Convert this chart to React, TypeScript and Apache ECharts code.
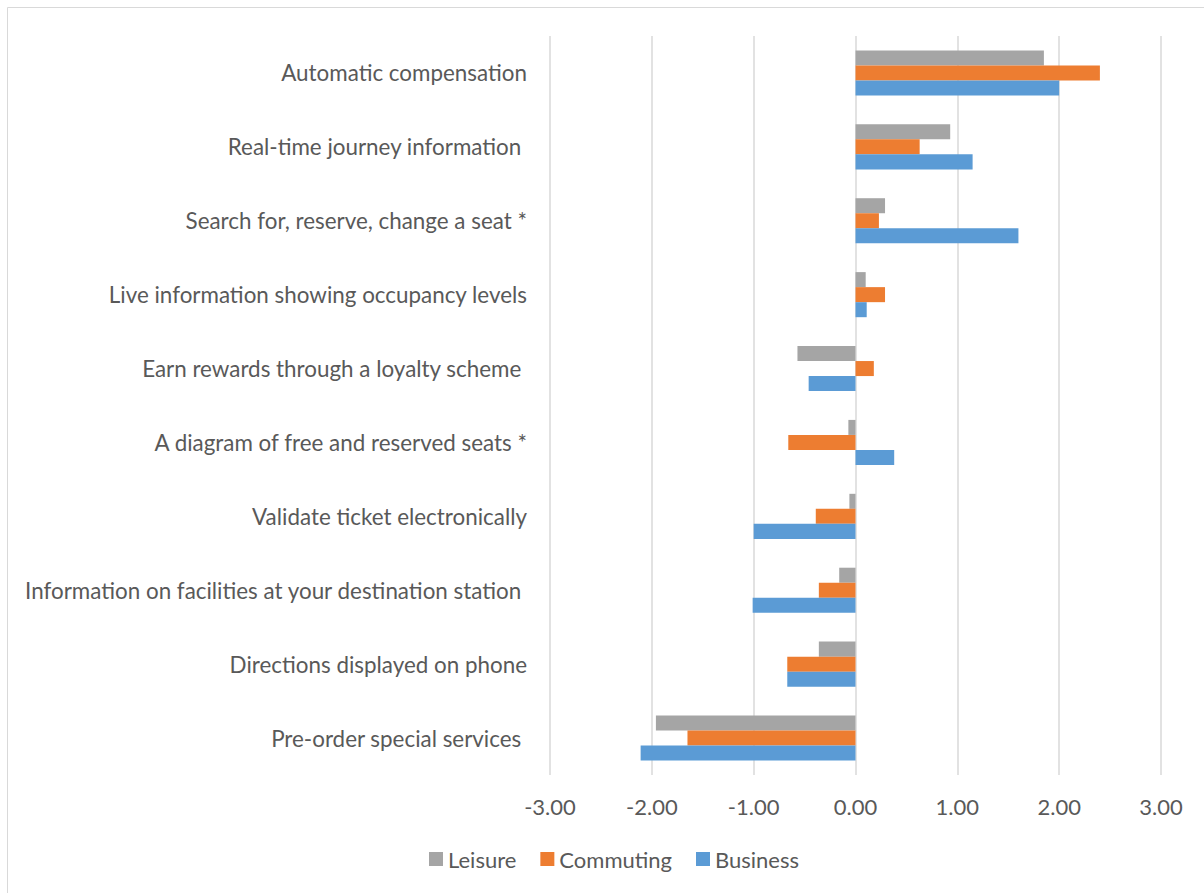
import React, { useEffect, useRef } from "react";
import * as echarts from "echarts";

const categories = [
  "Automatic compensation",
  "Real-time journey information ",
  "Search for, reserve, change a seat *",
  "Live information showing occupancy levels",
  "Earn rewards through a loyalty scheme ",
  "A diagram of free and reserved seats *",
  "Validate ticket electronically",
  "Information on facilities at your destination station ",
  "Directions displayed on phone",
  "Pre-order special services ",
];
const leisure = [1.85, 0.93, 0.29, 0.1, -0.57, -0.07, -0.06, -0.16, -0.36, -1.96];
const commuting = [2.4, 0.63, 0.23, 0.29, 0.18, -0.66, -0.39, -0.36, -0.67, -1.65];
const business = [2.0, 1.15, 1.6, 0.11, -0.46, 0.38, -1.0, -1.01, -0.67, -2.11];
const seriesNames = ["Leisure", "Commuting", "Business"];
const xMin = -3;
const xMax = 3;
const xStep = 1;

const FONT = "Lato";
const TEXT = "#595959";

export default function App() {
  const ref = useRef<HTMLDivElement>(null);
  useEffect(() => {
    document.body.style.margin = "0";
    const chart = echarts.init(ref.current!, null, { renderer: "svg" });
    chart.setOption({
      animation: false,
      backgroundColor: "#ffffff",
      textStyle: { fontFamily: FONT },
      graphic: [
        {
          type: "rect",
          shape: { x: 7.5, y: 7.5, width: 1220, height: 910 },
          style: { fill: "none", stroke: "#d9d9d9", lineWidth: 1 },
          silent: true,
        },
      ],
      grid: { left: 550, right: 43, top: 36, bottom: 118, containLabel: false },
      legend: {
        data: seriesNames,
        left: 424,
        top: 843,
        itemWidth: 14,
        itemHeight: 14,
        itemGap: 24,
        icon: "rect",
        textStyle: { color: TEXT, fontSize: 22, fontFamily: FONT },
      },
      xAxis: {
        type: "value",
        min: xMin,
        max: xMax,
        interval: xStep,
        axisLine: { show: false },
        axisTick: { show: false },
        splitLine: { lineStyle: { color: "#d9d9d9", width: 1.5 } },
        axisLabel: {
          color: TEXT,
          fontSize: 22,
          fontFamily: FONT,
          margin: 20,
          formatter: (v: number) => v.toFixed(2),
        },
      },
      yAxis: {
        type: "category",
        inverse: true,
        data: categories,
        axisLine: { show: false },
        axisTick: { show: false },
        axisLabel: { color: TEXT, fontSize: 22.4, fontFamily: FONT, margin: 23 },
      },
      series: [
        { name: "Leisure", type: "bar", data: leisure, itemStyle: { color: "#A5A5A5" }, barGap: "0%", barCategoryGap: "39%" },
        { name: "Commuting", type: "bar", data: commuting, itemStyle: { color: "#ED7D31" }, barGap: "0%", barCategoryGap: "39%" },
        { name: "Business", type: "bar", data: business, itemStyle: { color: "#5B9BD5" }, barGap: "0%", barCategoryGap: "39%" },
      ],
    });
    return () => chart.dispose();
  }, []);
  return <div ref={ref} style={{ width: 1204, height: 893 }} />;
}
